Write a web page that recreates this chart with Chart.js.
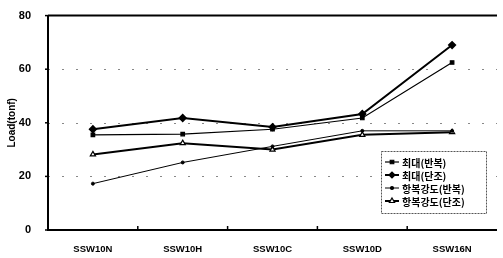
<!DOCTYPE html>
<html><head><meta charset="utf-8">
<script src="https://cdn.jsdelivr.net/npm/chart.js@4.4.1/dist/chart.umd.min.js"></script>
<style>html,body{margin:0;padding:0;background:#fff;}#wrap{width:503px;height:258px;}</style>
</head><body><div id="wrap"><canvas id="c" width="503" height="258"></canvas></div>
<script>
const categories = ["SSW10N", "SSW10H", "SSW10C", "SSW10D", "SSW16N"];
const maxCyclic = [35.5, 35.8, 37.6, 41.8, 62.5];
const maxMonotonic = [37.6, 41.8, 38.4, 43.3, 69.0];
const yieldCyclic = [17.3, 25.2, 31.2, 37.0, 37.0];
const yieldMonotonic = [28.2, 32.4, 30.0, 35.5, 36.5];
const seriesLabels = ["최대(반복)", "최대(단조)", "항복강도(반복)", "항복강도(단조)"];
const yTicks = [0, 20, 40, 60, 80];
const yTitle = "Load(tonf)";

const FONT = "'Liberation Sans', Arial, sans-serif";

const decor = {
  id: 'decor',
  beforeDatasetsDraw(chart) {
    const ctx = chart.ctx, y = chart.scales.y, x = chart.scales.x, a = chart.chartArea;
    ctx.save();
    ctx.strokeStyle = '#888';
    ctx.lineWidth = 1;
    ctx.setLineDash([2, 12]);
    [20, 40, 60].forEach(v => {
      const py = Math.round(y.getPixelForValue(v)) + 0.5;
      ctx.beginPath(); ctx.moveTo(a.left, py); ctx.lineTo(a.right, py); ctx.stroke();
    });
    ctx.setLineDash([]);
    ctx.strokeStyle = '#000';
    ctx.lineWidth = 2;
    const ty = y.getPixelForValue(80);
    ctx.beginPath(); ctx.moveTo(a.left, ty); ctx.lineTo(a.right, ty); ctx.stroke();
    ctx.beginPath(); ctx.moveTo(a.left, ty); ctx.lineTo(a.left, y.getPixelForValue(0)); ctx.lineTo(a.right, y.getPixelForValue(0)); ctx.stroke();
    ctx.lineWidth = 1.5;
    yTicks.forEach(v => {
      const py = y.getPixelForValue(v);
      ctx.beginPath(); ctx.moveTo(a.left - 3, py); ctx.lineTo(a.left, py); ctx.stroke();
    });
    const by = y.getPixelForValue(0);
    for (let i = 0; i < categories.length - 1; i++) {
      const px = (x.getPixelForValue(i) + x.getPixelForValue(i + 1)) / 2;
      ctx.beginPath(); ctx.moveTo(px, by); ctx.lineTo(px, by - 4); ctx.stroke();
    }
    ctx.restore();
  },
  afterDraw(chart) {
    const ctx = chart.ctx;
    ctx.save();
    const bx = 381, by = 151, bw = 105, bh = 62;
    ctx.fillStyle = '#fff';
    ctx.fillRect(bx, by, bw, bh);
    ctx.strokeStyle = '#555';
    ctx.lineWidth = 1;
    ctx.setLineDash([2, 1]);
    ctx.strokeRect(bx + 0.5, by + 0.5, bw, bh);
    ctx.setLineDash([]);
    ctx.font = "bold 10px 'Noto Sans CJK KR', sans-serif";
    ctx.textBaseline = 'middle';
    chart.data.datasets.forEach((ds, i) => {
      const ry = by + 11 + i * 13;
      ctx.strokeStyle = '#000';
      ctx.lineWidth = ds.borderWidth;
      ctx.beginPath(); ctx.moveTo(bx + 4, ry); ctx.lineTo(bx + 18, ry); ctx.stroke();
      ctx.fillStyle = ds.pointBackgroundColor;
      ctx.strokeStyle = '#000';
      ctx.lineWidth = 1.2;
      Chart.helpers.drawPoint(ctx, {pointStyle: ds.pointStyle, radius: ds.pointRadius, borderWidth: 1.2, rotation: 0}, bx + 11, ry);
      ctx.fillStyle = '#000';
      ctx.fillText(ds.label, bx + 21, ry + 1);
    });
    ctx.restore();
  }
};

new Chart(document.getElementById('c'), {
  type: 'line',
  data: {
    labels: categories,
    datasets: [
      { label: seriesLabels[0], data: maxCyclic, borderColor: '#000', borderWidth: 1.2, pointStyle: 'rect', pointRadius: 2.5, pointBackgroundColor: '#000', pointBorderColor: '#000' },
      { label: seriesLabels[1], data: maxMonotonic, borderColor: '#000', borderWidth: 2, pointStyle: 'rectRot', pointRadius: 3, pointBackgroundColor: '#000', pointBorderColor: '#000' },
      { label: seriesLabels[2], data: yieldCyclic, borderColor: '#000', borderWidth: 1, pointStyle: 'circle', pointRadius: 1.5, pointBackgroundColor: '#000', pointBorderColor: '#000' },
      { label: seriesLabels[3], data: yieldMonotonic, borderColor: '#000', borderWidth: 2, pointStyle: 'triangle', pointRadius: 3, pointBackgroundColor: '#fff', pointBorderColor: '#000', pointBorderWidth: 1.2 }
    ]
  },
  options: {
    responsive: false,
    animation: false,
    layout: { padding: { top: 11, right: 0, left: 0, bottom: 0 } },
    plugins: { legend: { display: false }, tooltip: { enabled: false } },
    elements: { line: { tension: 0 } },
    scales: {
      x: {
        offset: true,
        grid: { display: false },
        border: { display: false },
        ticks: { color: '#000', font: { family: FONT, size: 9.5, weight: 'bold' }, padding: 6, maxRotation: 0 },
        afterFit(s) { s.height = 28; }
      },
      y: {
        min: 0, max: 80,
        afterBuildTicks(s) { s.ticks = yTicks.map(v => ({ value: v })); },
        grid: { display: false },
        border: { display: false },
        ticks: { color: '#000', font: { family: FONT, size: 11, weight: 'bold' }, padding: 9 },
        title: { display: true, text: yTitle, color: '#000', font: { family: FONT, size: 10, weight: 'bold' }, padding: { top: 6, bottom: 0 } },
        afterFit(s) { s.width = 48; }
      }
    }
  },
  plugins: [decor]
});
</script>
</body></html>
